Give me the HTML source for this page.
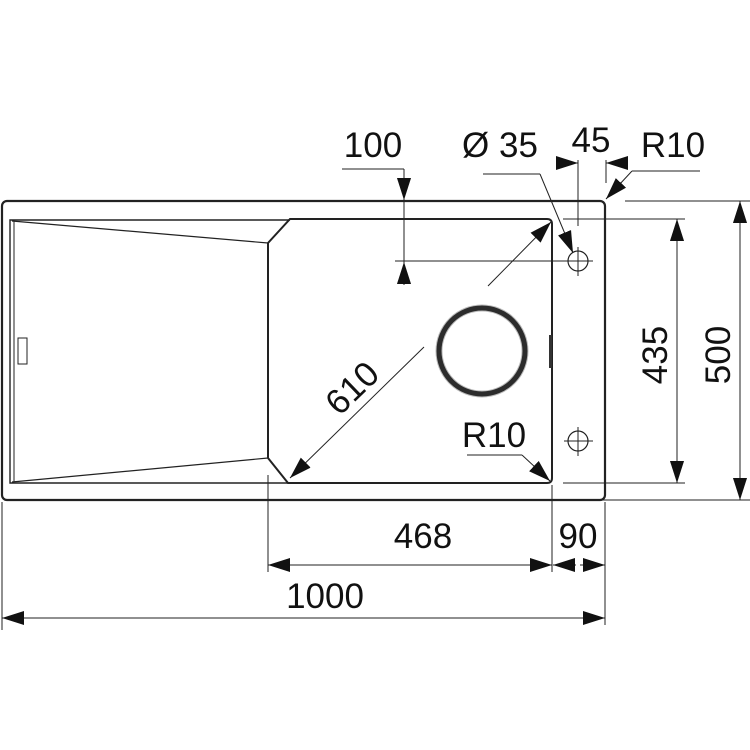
<!DOCTYPE html>
<html><head><style>html,body{margin:0;padding:0;background:#fff}svg{display:block}text{font-family:"Liberation Sans",Arial,sans-serif;font-size:35px;fill:#111}</style></head>
<body>
<svg width="750" height="750" viewBox="0 0 750 750" xmlns="http://www.w3.org/2000/svg">
<defs>
<marker id="a" viewBox="0 0 10 10" refX="10" refY="5" markerWidth="22" markerHeight="22" markerUnits="userSpaceOnUse" orient="auto-start-reverse"><path d="M0,1.8 L10,5 L0,8.2z" fill="#111"/></marker>
</defs>
<g fill="none" stroke="#222">
<!-- outer -->
<rect x="2" y="201" width="603" height="299" rx="5" stroke-width="2.2"/>
<!-- drainer -->
<path d="M290,220 L10,220 L10,483 L288,483" stroke-width="1.4"/>
<line x1="14" y1="221" x2="14" y2="482" stroke-width="1"/>
<polyline points="12,221 268,243" stroke-width="1.2"/>
<polyline points="12,482 268,458" stroke-width="1.2"/>
<rect x="18" y="338" width="9" height="26" stroke-width="1"/>
<!-- bowl -->
<path d="M290,219 L547,219 Q552,219 552,224 L552,478 Q552,483 547,483 L288,483 L268,458 L268,243 Z" stroke-width="2"/>
<rect x="549" y="335" width="3" height="33" fill="#333" stroke="none"/>
<!-- drain -->
<circle cx="482" cy="351" r="43" stroke-width="5" stroke="#111"/>
<circle cx="482" cy="351" r="43" stroke-width="7" stroke="#555" opacity="0.4"/>
<!-- tap holes -->
<circle cx="578" cy="261" r="10" stroke-width="1.2"/>
<line x1="564" y1="261" x2="593" y2="261" stroke-width="1"/>
<line x1="578" y1="247" x2="578" y2="276" stroke-width="1"/>
<circle cx="578" cy="441" r="10" stroke-width="1.2"/>
<line x1="564" y1="441" x2="593" y2="441" stroke-width="1"/>
<line x1="578" y1="427" x2="578" y2="456" stroke-width="1"/>
<!-- extension lines -->
<g stroke-width="1">
<line x1="2" y1="502" x2="2" y2="630"/>
<line x1="268" y1="475" x2="268" y2="572"/>
<line x1="552" y1="485" x2="552" y2="572"/>
<line x1="605" y1="502" x2="605" y2="625"/>
<line x1="625" y1="201" x2="750" y2="201"/>
<line x1="600" y1="500" x2="750" y2="500"/>
<line x1="563" y1="219" x2="685" y2="219"/>
<line x1="563" y1="483" x2="685" y2="483"/>
<line x1="395" y1="261" x2="590" y2="261"/>
<line x1="578" y1="160" x2="578" y2="226"/>
<line x1="606" y1="160" x2="606" y2="183"/>
<line x1="342" y1="169" x2="404" y2="169"/>
<line x1="404" y1="169" x2="404" y2="200" marker-end="url(#a)"/>
<line x1="404" y1="285" x2="404" y2="262" marker-end="url(#a)"/>
<line x1="404" y1="200" x2="404" y2="262"/>
<polyline points="483,174 540,174"/>
<line x1="540" y1="174" x2="573" y2="253" marker-end="url(#a)"/>
<polyline points="632,171 700,171"/>
<line x1="632" y1="171" x2="606" y2="199" marker-end="url(#a)"/>
<polyline points="467,455 522,455"/>
<line x1="522" y1="455" x2="550" y2="481" marker-end="url(#a)"/>
<line x1="556" y1="163" x2="578" y2="163" marker-end="url(#a)"/>
<line x1="628" y1="163" x2="606" y2="163" marker-end="url(#a)"/>
<line x1="424" y1="347" x2="290" y2="478" marker-end="url(#a)"/>
<line x1="488" y1="286" x2="551" y2="222" marker-end="url(#a)"/>
<line x1="268" y1="565" x2="552" y2="565" marker-start="url(#a)" marker-end="url(#a)"/>
<line x1="576" y1="565" x2="553" y2="565" marker-end="url(#a)"/>
<line x1="580" y1="565" x2="605" y2="565" marker-end="url(#a)"/>
<line x1="2" y1="618" x2="605" y2="618" marker-start="url(#a)" marker-end="url(#a)"/>
<line x1="677" y1="219" x2="677" y2="483" marker-start="url(#a)" marker-end="url(#a)"/>
<line x1="740" y1="201" x2="740" y2="500" marker-start="url(#a)" marker-end="url(#a)"/>
</g>
</g>
<text x="373" y="157" text-anchor="middle">100</text>
<text x="500" y="157" text-anchor="middle">Ø 35</text>
<text x="591" y="152" text-anchor="middle">45</text>
<text x="673" y="157" text-anchor="middle">R10</text>
<text x="494" y="447" text-anchor="middle">R10</text>
<text x="423" y="548" text-anchor="middle">468</text>
<text x="578" y="548" text-anchor="middle">90</text>
<text x="325" y="608" text-anchor="middle">1000</text>
<text transform="translate(352,388) rotate(-44)" x="0" y="12" text-anchor="middle">610</text>
<text transform="translate(655,355) rotate(-90)" x="0" y="12" text-anchor="middle">435</text>
<text transform="translate(718,355) rotate(-90)" x="0" y="12" text-anchor="middle">500</text>
</svg>
</body></html>
